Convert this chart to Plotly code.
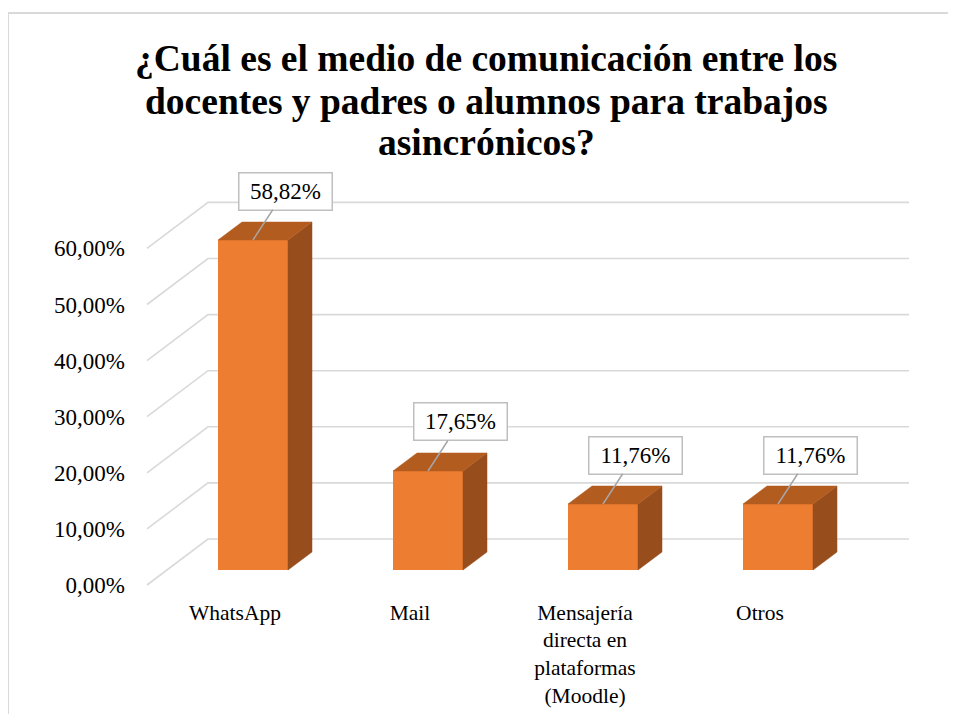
import plotly.graph_objects as go

# ---------------- data ----------------
categories = ["WhatsApp", "Mail", "Mensajería<br>directa en<br>plataformas<br>(Moodle)", "Otros"]
values = [58.82, 17.65, 11.76, 11.76]          # percent
y_ticks = [0, 10, 20, 30, 40, 50, 60]
y_tick_labels = ["0,00%", "10,00%", "20,00%", "30,00%", "40,00%", "50,00%", "60,00%"]
title_lines = [
    "¿Cuál es el medio de comunicación entre los",
    "docentes y padres o alumnos para trabajos",
    "asincrónicos?",
]

# ---------------- style / geometry ----------------
OFF = 8                                   # page body margin of the html page
W_FIG, H_FIG = 956 - 2 * OFF, 722 - 2 * OFF
L, R, T, B = 140, 915, 170, 597          # plot area in screen px
X0_PX, X_STEP = 253, 175                 # screen px of category 0, px per category
Y0_PX, Y_STEP = 570, 5.61                # screen px of value 0, px per 1 %
FONT = "Liberation Serif, Tinos, Times New Roman, DejaVu Serif, Noto Serif, serif"
FRONT = "#ED7D31"
TOP = "#B35C20"
SIDE = "#974D1C"
GRID = "#D9D9D9"

xr = [(L - X0_PX) / X_STEP, (R - X0_PX) / X_STEP]
yr = [(Y0_PX - B) / Y_STEP, (Y0_PX - T) / Y_STEP]

bar_w = 0.4
dx, dy = 24 / X_STEP, 18 / Y_STEP                 # bar depth
front_dy = -15 / Y_STEP                           # front wall offset (value units)
back_dy = 31 / Y_STEP                             # back wall offset
front_x, back_x, end_x = (147 - X0_PX) / X_STEP, (208 - X0_PX) / X_STEP, (909 - X0_PX) / X_STEP
label_dx = -18 / X_STEP                           # category labels on front plane


def px_paper_x(px):
    return (px - L) / (R - L)


def px_paper_y(py):
    return (B - py) / (B - T)


xs = list(range(len(values)))

fig = go.Figure()

# side faces and top faces of the 3D bars (computed from the data values)
side_x, side_y, top_x, top_y = [], [], [], []
for i, v in zip(xs, values):
    r = i + bar_w / 2
    l = i - bar_w / 2
    side_x += [r, r + dx, r + dx, r, r, None]
    side_y += [0, dy, v + dy, v, 0, None]
    top_x += [l, r, r + dx, l + dx, l, None]
    top_y += [v, v, v + dy, v + dy, v, None]

fig.add_trace(go.Bar(x=xs, y=values, width=bar_w, marker=dict(color=FRONT, line=dict(width=0)),
                     hoverinfo="skip", showlegend=False))
fig.add_trace(go.Scatter(x=side_x, y=side_y, mode="lines", fill="toself", fillcolor=SIDE,
                         line=dict(color=SIDE, width=0.5), hoverinfo="skip", showlegend=False))
fig.add_trace(go.Scatter(x=top_x, y=top_y, mode="lines", fill="toself", fillcolor=TOP,
                         line=dict(color=TOP, width=0.5), hoverinfo="skip", showlegend=False))

# perspective gridlines (left wall + back wall)
shapes = []
for t in y_ticks:
    shapes.append(dict(
        type="path", xref="x", yref="y", layer="below",
        path=f"M {front_x},{t + front_dy} L {back_x},{t + back_dy} L {end_x},{t + back_dy}",
        line=dict(color=GRID, width=1.6),
    ))

# outer chart border (left + top)
shapes.append(dict(type="line", xref="paper", yref="paper",
                   x0=px_paper_x(8), x1=px_paper_x(960), y0=px_paper_y(13), y1=px_paper_y(13),
                   line=dict(color=GRID, width=2)))
shapes.append(dict(type="line", xref="paper", yref="paper",
                   x0=px_paper_x(8), x1=px_paper_x(8), y0=px_paper_y(13), y1=px_paper_y(730),
                   line=dict(color=GRID, width=2)))

annotations = []
# data labels
for i, v in zip(xs, values):
    annotations.append(dict(
        x=i, y=v, xref="x", yref="y", text=f"{v:.2f}%".replace(".", ","),
        showarrow=True, arrowhead=0, arrowwidth=1.5, arrowcolor="#A6A6A6",
        ax=32, ay=-49, font=dict(family=FONT, size=23, color="#000000"),
        width=86, height=30, borderpad=3,
        bgcolor="#FFFFFF", bordercolor="#BFBFBF", borderwidth=1.5,
    ))
# title lines
for k, line in enumerate(title_lines):
    annotations.append(dict(
        x=px_paper_x(486), y=px_paper_y(59 + 42 * k), xref="paper", yref="paper",
        xanchor="center", yanchor="middle", showarrow=False, text=f"<b>{line}</b>",
        font=dict(family=FONT, size=37.5, color="#000000"),
    ))

fig.update_layout(
    width=W_FIG, height=H_FIG,
    margin=dict(l=L - OFF, r=W_FIG - (R - OFF), t=T - OFF, b=H_FIG - (B - OFF), pad=0, autoexpand=False),
    paper_bgcolor="#FFFFFF", plot_bgcolor="rgba(0,0,0,0)",
    showlegend=False,
    font=dict(family=FONT),
    shapes=shapes, annotations=annotations,
    xaxis=dict(range=xr, showgrid=False, zeroline=False, showticklabels=False, showline=False,
               automargin=False),
    yaxis=dict(range=yr, showgrid=False, zeroline=False, showticklabels=False, showline=False,
               automargin=False),
    xaxis2=dict(overlaying="x", anchor="y", side="bottom", automargin=False,
                range=[xr[0] - label_dx, xr[1] - label_dx],
                tickmode="array", tickvals=xs, ticktext=categories,
                showgrid=False, zeroline=False, showline=False, ticks="",
                tickfont=dict(family=FONT, size=21.5, color="#000000")),
    yaxis2=dict(overlaying="y", anchor="x", side="left", automargin=False,
                range=[yr[0] - front_dy, yr[1] - front_dy],
                tickmode="array", tickvals=y_ticks, ticktext=y_tick_labels,
                showgrid=False, zeroline=False, showline=False, ticks="",
                ticklabelstandoff=14,
                tickfont=dict(family=FONT, size=23, color="#000000")),
)

# an invisible trace to activate the label axes
fig.add_trace(go.Scatter(x=[xs[0]], y=[y_ticks[0]], xaxis="x2", yaxis="y2", mode="markers",
                         marker=dict(opacity=0), hoverinfo="skip", showlegend=False))

fig.write_html("out.html")
